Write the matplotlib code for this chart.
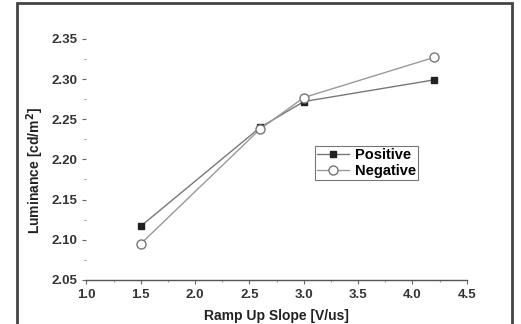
import matplotlib
matplotlib.use("Agg")
import matplotlib.pyplot as plt
from matplotlib.ticker import MultipleLocator
from matplotlib.patches import Rectangle

x = [1.5, 2.6, 3.0, 4.2]
positive = [2.117, 2.240, 2.272, 2.299]
negative = [2.095, 2.238, 2.277, 2.327]

plt.rcParams['font.family'] = ['Liberation Sans', 'DejaVu Sans']

fig = plt.figure(figsize=(5.21, 3.24), dpi=100)
ax = fig.add_axes([0.166, 0.136, 0.730, 0.744])

ax.plot(x, positive, color='#777777', lw=1.0, marker='s', ms=4.5,
        mfc='#222222', mec='#222222', label='Positive')
ax.plot(x, negative, color='#999999', lw=1.0, marker='o', ms=6.5,
        mfc='white', mec='#777777', mew=1.0, label='Negative')

ax.set_xlim(1.0, 4.5)
ax.set_ylim(2.05, 2.35)
ax.xaxis.set_major_locator(MultipleLocator(0.5))
ax.xaxis.set_minor_locator(MultipleLocator(0.25))
ax.yaxis.set_major_locator(MultipleLocator(0.05))
ax.yaxis.set_minor_locator(MultipleLocator(0.025))
ax.xaxis.set_major_formatter(matplotlib.ticker.FormatStrFormatter('%.1f'))
ax.yaxis.set_major_formatter(matplotlib.ticker.FormatStrFormatter('%.2f'))

for s in ['top', 'right', 'left']:
    ax.spines[s].set_visible(False)
ax.spines['bottom'].set_color('#555555')
ax.spines['bottom'].set_linewidth(1.0)

ax.tick_params(axis='both', which='major', direction='out', length=3,
               width=0.8, color='#666666', labelsize=9.5, labelcolor='#333333')
ax.tick_params(axis='both', which='minor', direction='out', length=1.5,
               width=0.8, color='#999999')
for lab in ax.get_xticklabels() + ax.get_yticklabels():
    lab.set_fontweight('bold')

ax.set_xlabel('Ramp Up Slope [V/us]', fontsize=10, fontweight='bold',
              color='#222222', labelpad=6)
ax.set_ylabel('Luminance [cd/m$^\\mathbf{2}$]', fontsize=10, fontweight='bold',
              color='#222222')
ax.yaxis.set_label_coords(-0.106, 0.455)

leg = ax.legend(loc='upper left', bbox_to_anchor=(0.60, 0.555),
                prop={'weight': 'bold', 'size': 10.5}, frameon=True,
                fancybox=False, edgecolor='#555555', borderpad=0.15,
                handlelength=2.2, handletextpad=0.4, labelspacing=0.1,
                borderaxespad=0)
leg.get_frame().set_linewidth(0.8)

fig.patches.append(Rectangle((17 / 521, -0.02), (512 - 17) / 521, 1 - 3 / 324 + 0.02,
                             transform=fig.transFigure, fill=False,
                             edgecolor='#444444', lw=2.0))

fig.savefig('out.png', dpi=100)
